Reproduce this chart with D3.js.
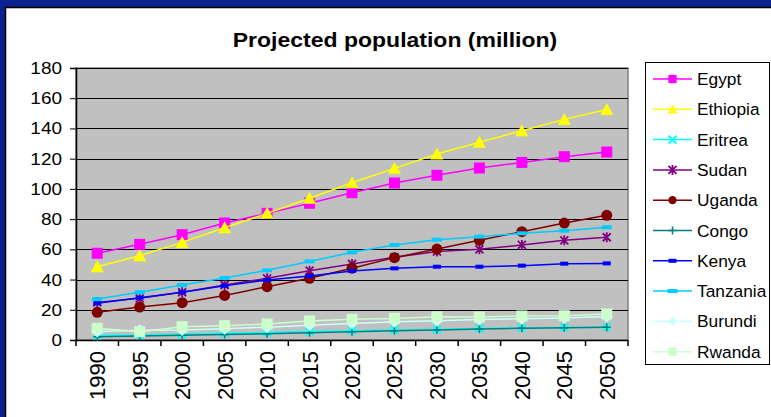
<!DOCTYPE html>
<html><head><meta charset="utf-8">
<script src="https://cdn.jsdelivr.net/npm/d3@7/dist/d3.min.js"></script>
<style>
html,body{margin:0;padding:0;background:#fff;}
svg{display:block;font-family:"Liberation Sans",Arial,sans-serif;}
</style></head>
<body>
<svg id="c" width="771" height="417"></svg>
<script>
const years = ["1990","1995","2000","2005","2010","2015","2020","2025","2030","2035","2040","2045","2050"];
const yTicks = [0,20,40,60,80,100,120,140,160,180];
const egypt    = [57.4,63.3,69.7,77.4,83.8,90.5,97.5,103.9,109,113.8,117.5,121.3,124.4];
const ethiopia = [48.5,55.8,64.6,74.3,83.8,93.8,104.1,113.6,123.1,130.8,138.5,146,152.6];
const eritrea  = [3.0,3.3,3.8,4.5,5.0,5.6,6.2,6.7,7.0,7.6,8.0,8.3,8.5];
const sudan    = [24.9,27.6,31.6,36.4,40.8,45.9,50.3,54.7,58.5,60,62.9,66,68];
const uganda   = [18.3,21.8,24.7,29.5,35.3,40.8,47.5,54.5,60.2,66,71.7,77.4,82.5];
const congo    = [2.2,2.6,3.2,3.6,4.1,4.8,5.5,6.2,6.6,7.2,7.7,8.1,8.4];
const kenya    = [24.3,28,31.6,35.9,39.7,42.4,45.7,47.4,48.5,48.5,49.2,50.5,50.7];
const tanzania = [27.1,31.6,36.4,41,46.1,52,58,62.9,66.4,68.4,70.6,72.3,74.6];
const burundi  = [5.6,6.4,6.6,7.5,8.5,9.8,11,12,12.8,13.5,14,14.5,15.5];
const rwanda   = [7.7,5.5,8.8,9.5,10.6,12.6,13.7,14.3,15.4,15.2,15.9,16.1,17.2];

const seriesNames = ["Egypt","Ethiopia","Eritrea","Sudan","Uganda","Congo","Kenya","Tanzania","Burundi","Rwanda"];
const seriesValues = [egypt,ethiopia,eritrea,sudan,uganda,congo,kenya,tanzania,burundi,rwanda];
const colors = ["#ff00ff","#ffff00","#00ffff","#800080","#800000","#008080","#0000ff","#00ccff","#ccffff","#ccffcc"];
const markers = ["square","triangle","x","star","circle","plus","dash","dash2","diamond","square"];

const SX = 1.15; // horizontal text stretch seen in the reference

const svg = d3.select("#c");
// frame
svg.append("rect").attr("x",0).attr("y",0).attr("width",771).attr("height",417).attr("fill","#fff");
svg.append("rect").attr("x",0).attr("y",0).attr("width",771).attr("height",7).attr("fill","#0c2290");
svg.append("rect").attr("x",0).attr("y",0).attr("width",5).attr("height",417).attr("fill","#0c2290");
svg.append("line").attr("x1",5).attr("x2",771).attr("y1",7.5).attr("y2",7.5).attr("stroke","#000").attr("stroke-width",1.5);
svg.append("line").attr("x1",5.5).attr("x2",5.5).attr("y1",7).attr("y2",417).attr("stroke","#000").attr("stroke-width",1.5);

const L = 76, R = 628, T = 68, B = 340;
const x = d3.scaleBand().domain(years).range([L,R]);
const y = d3.scaleLinear().domain([0,180]).range([B,T]);

function stretchedText(parent, px, py, anchor, size, txt, weight, sx){
  return parent.append("text")
    .attr("transform",`translate(${px},${py}) scale(${sx||SX},1)`)
    .attr("text-anchor",anchor).attr("font-size",size)
    .attr("font-weight",weight||"normal").attr("fill","#000").text(txt);
}

stretchedText(svg, 395, 47, "middle", 20, "Projected population (million)", "bold");

// plot area
svg.append("rect").attr("x",L).attr("y",T).attr("width",R-L).attr("height",B-T)
  .attr("fill","#c0c0c0").attr("stroke","#808080").attr("stroke-width",1.5);

// grid
svg.append("g").selectAll("line").data(yTicks.filter(d=>d>0)).join("line")
  .attr("x1",L).attr("x2",R).attr("y1",d=>Math.round(y(d))+0.5).attr("y2",d=>Math.round(y(d))+0.5)
  .attr("stroke","#000").attr("stroke-width",1);

// y axis
const ya = svg.append("g").attr("transform",`translate(${L},0)`)
  .call(d3.axisLeft(y).tickValues(yTicks).tickSize(6).tickFormat(d3.format("d")));
ya.select(".domain").attr("stroke","#000").attr("stroke-width",1.5);
ya.selectAll(".tick line").attr("stroke","#000");
ya.selectAll(".tick text").remove();
const ylab = svg.append("g");
yTicks.forEach(t=>stretchedText(ylab, 62, y(t)+6, "end", 16.5, String(t)));

// x axis: ticks between categories
const xa = svg.append("g").attr("transform",`translate(0,${B})`);
xa.append("line").attr("x1",L).attr("x2",R).attr("y1",0.5).attr("y2",0.5).attr("stroke","#000").attr("stroke-width",1.5);
const bounds = years.map(d=>x(d)).concat([R]);
xa.selectAll("line.tk").data(bounds).join("line").attr("class","tk")
  .attr("x1",d=>d).attr("x2",d=>d).attr("y1",0).attr("y2",6).attr("stroke","#000").attr("stroke-width",1.5);
xa.selectAll("text").data(years).join("text")
  .attr("transform",d=>`translate(${x(d)+x.bandwidth()/2+8},11) rotate(-90)`)
  .attr("text-anchor","end").attr("font-size",22).attr("fill","#000").text(d=>d);

const cx = d => x(d)+x.bandwidth()/2;
const line = d3.line().x((v,i)=>cx(years[i])).y(v=>y(v));

function drawMarker(g, type, color, px, py, scale){
  const s = scale||1;
  if(type==="square"){
    g.append("rect").attr("x",px-5.5*s).attr("y",py-5.5*s).attr("width",11*s).attr("height",11*s).attr("fill",color);
  } else if(type==="triangle"){
    g.append("path").attr("d",`M${px},${py-6.5*s}L${px+6.5*s},${py+5.5*s}L${px-6.5*s},${py+5.5*s}Z`).attr("fill",color);
  } else if(type==="circle"){
    g.append("circle").attr("cx",px).attr("cy",py).attr("r",5.5*s).attr("fill",color);
  } else if(type==="diamond"){
    g.append("path").attr("d",`M${px},${py-6*s}L${px+6*s},${py}L${px},${py+6*s}L${px-6*s},${py}Z`).attr("fill",color);
  } else if(type==="x"){
    g.append("path").attr("d",`M${px-4},${py-4}L${px+4},${py+4}M${px+4},${py-4}L${px-4},${py+4}`).attr("stroke",color).attr("stroke-width",2);
  } else if(type==="plus"){
    g.append("path").attr("d",`M${px-4},${py}L${px+4},${py}M${px},${py-4}L${px},${py+4}`).attr("stroke",color).attr("stroke-width",1.5);
  } else if(type==="star"){
    g.append("path").attr("d",`M${px-4},${py-4}L${px+4},${py+4}M${px+4},${py-4}L${px-4},${py+4}M${px},${py-5}L${px},${py+5}`).attr("stroke",color).attr("stroke-width",1.8);
  } else if(type==="dash"){
    g.append("rect").attr("x",px-4).attr("y",py-2).attr("width",8).attr("height",4).attr("fill",color);
  } else if(type==="dash2"){
    g.append("rect").attr("x",px-5).attr("y",py-2).attr("width",10).attr("height",4).attr("fill",color);
  }
}

const plot = svg.append("g");
seriesValues.forEach((vals,k)=>{
  const g = plot.append("g");
  g.append("path").attr("d",line(vals)).attr("fill","none").attr("stroke",colors[k]).attr("stroke-width",1.5);
  vals.forEach((v,i)=>drawMarker(g, markers[k], colors[k], cx(years[i]), y(v)));
});

// legend
const lg = svg.append("g");
lg.append("rect").attr("x",645.5).attr("y",62.5).attr("width",124).attr("height",302).attr("fill","#fff").attr("stroke","#000").attr("stroke-width",1);
seriesNames.forEach((n,k)=>{
  const ly = 79 + k*30.3;
  const gg = lg.append("g");
  gg.append("line").attr("x1",653).attr("x2",692).attr("y1",ly).attr("y2",ly).attr("stroke",colors[k]).attr("stroke-width",1.5);
  drawMarker(gg, markers[k], colors[k], 672.5, ly, 0.75);
  stretchedText(gg, 697, ly+6, "start", 16.5, n, "normal", 1.05);
});
</script>
</body></html>
